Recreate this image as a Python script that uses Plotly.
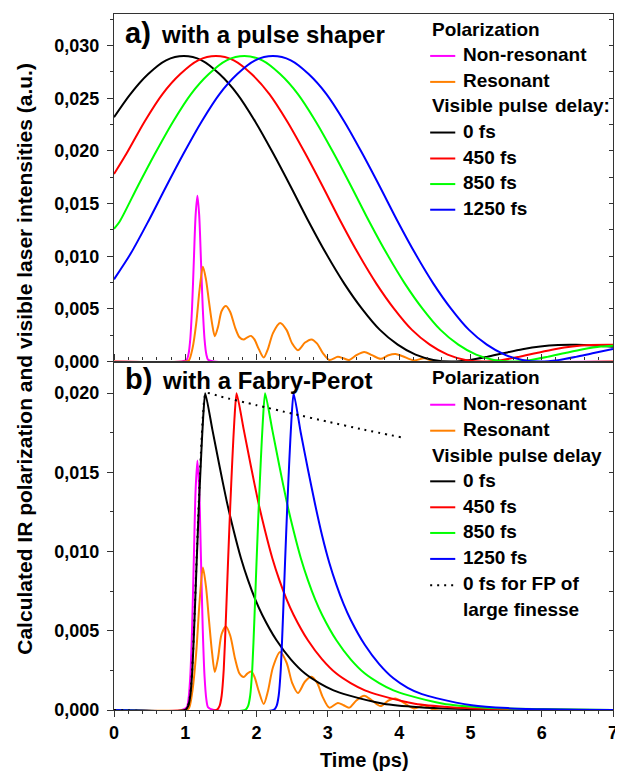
import plotly.graph_objects as go

# ---------------- data ----------------
# (a) pulse shaper: visible laser intensities for each delay
t_black_a = [0, 0.23, 0.48, 0.73, 0.98, 1.23, 1.48, 1.73, 1.98, 2.23, 2.48, 2.73, 2.98, 3.23, 3.48,
             3.73, 3.98, 4.23, 4.48, 4.73, 4.98, 5.23, 5.48, 5.73, 5.98, 6.23, 6.48, 6.73, 7.0]
black_a = [0.0232, 0.0254, 0.0273, 0.0286, 0.0290, 0.0286, 0.0273, 0.0254, 0.0228, 0.0198, 0.0166,
           0.0133, 0.0102, 0.0074, 0.0050, 0.0030, 0.0016, 0.00065, 0.00015, 0.0, 0.00013, 0.00044,
           0.00081, 0.00116, 0.00142, 0.00156, 0.00158, 0.00152, 0.00140]

t_red_a = [0, 0.18, 0.43, 0.68, 0.93, 1.18, 1.43, 1.68, 1.93, 2.18, 2.43, 2.68, 2.93, 3.18, 3.43,
           3.68, 3.93, 4.18, 4.43, 4.68, 4.93, 5.18, 5.43, 5.68, 5.93, 6.18, 6.43, 6.68, 7.0]
red_a = [0.0178, 0.0198, 0.0228, 0.0254, 0.0273, 0.0286, 0.0290, 0.0286, 0.0273, 0.0254, 0.0228,
         0.0198, 0.0166, 0.0133, 0.0102, 0.0074, 0.0050, 0.0030, 0.0016, 0.00065, 0.00015, 0.0,
         0.00013, 0.00044, 0.00081, 0.00116, 0.00142, 0.00156, 0.00158]

t_green_a = [0, 0.08, 0.33, 0.58, 0.83, 1.08, 1.33, 1.58, 1.83, 2.08, 2.33, 2.58, 2.83, 3.08, 3.33,
             3.58, 3.83, 4.08, 4.33, 4.58, 4.83, 5.08, 5.33, 5.58, 5.83, 6.08, 6.33, 6.58, 6.83, 7.0]
green_a = [0.0126, 0.0133, 0.0166, 0.0198, 0.0228, 0.0254, 0.0273, 0.0286, 0.0290, 0.0286, 0.0273,
           0.0254, 0.0228, 0.0198, 0.0166, 0.0133, 0.0102, 0.0074, 0.0050, 0.0030, 0.0016, 0.00065,
           0.00015, 0.0, 0.00013, 0.00044, 0.00081, 0.00116, 0.00142, 0.00150]

t_blue_a = [0, 0.23, 0.48, 0.73, 0.98, 1.23, 1.48, 1.73, 1.98, 2.23, 2.48, 2.73, 2.98, 3.23, 3.48,
            3.73, 3.98, 4.23, 4.48, 4.73, 4.98, 5.23, 5.48, 5.73, 5.98, 6.23, 6.48, 6.73, 7.0]
blue_a = [0.0078, 0.0102, 0.0133, 0.0166, 0.0198, 0.0228, 0.0254, 0.0273, 0.0286, 0.0290, 0.0286,
          0.0273, 0.0254, 0.0228, 0.0198, 0.0166, 0.0133, 0.0102, 0.0074, 0.0050, 0.0030, 0.0016,
          0.00065, 0.00015, 0.0, 0.00013, 0.00044, 0.00081, 0.00118]

# IR polarization (same in both panels)
t_nonres = [0, 0.95, 1.02, 1.045, 1.07, 1.095, 1.12, 1.145, 1.17, 1.195, 1.22, 1.245, 1.27,
            1.295, 1.32, 1.40, 7.0]
nonres = [0, 0, 0.00017, 0.00069, 0.00213, 0.0051, 0.00956, 0.0139, 0.01575, 0.0139, 0.00956,
          0.0051, 0.00213, 0.00069, 0.00017, 0, 0]

t_res = [0, 1.0, 1.05, 1.1, 1.153, 1.2, 1.247, 1.29, 1.33, 1.376, 1.414, 1.46, 1.51, 1.571, 1.63,
         1.70, 1.76, 1.818, 1.87, 1.924, 1.97, 2.03, 2.10, 2.16, 2.23, 2.33, 2.42, 2.50, 2.58, 2.68,
         2.77, 2.85, 2.93, 3.02, 3.14, 3.22, 3.30, 3.40, 3.51, 3.62, 3.74, 3.85, 3.95, 4.05, 4.21,
         4.35, 4.50, 7.0]
res = [0, 0, 0.0001, 0.0012, 0.0036, 0.0068, 0.0090, 0.0078, 0.0058, 0.0036, 0.0024, 0.0033,
       0.0048, 0.00527, 0.0047, 0.0032, 0.0023, 0.00208, 0.0023, 0.00243, 0.0021, 0.0012, 0.00038,
       0.0012, 0.0027, 0.00366, 0.0030, 0.0017, 0.00107, 0.0018, 0.0021, 0.0017, 0.0008, 0.00015,
       0.00044, 0.0003, 0.00015, 0.0006, 0.0009, 0.0006, 0.00025, 0.0006, 0.00072, 0.0005, 0.0001,
       0.0003, 0.0, 0.0]

# (b) Fabry-Perot: visible laser intensities for each delay
t_black_b = [0, 1.0, 1.04, 1.07, 1.10, 1.13, 1.16, 1.19, 1.22, 1.25, 1.28, 1.38, 1.48, 1.58, 1.68,
             1.78, 1.88, 1.98, 2.08, 2.28, 2.48, 2.68, 2.88, 3.08, 3.28, 3.78, 4.28, 4.78, 5.28,
             6.28, 7.0]
black_b = [0, 0, 0.00024, 0.0009, 0.0026, 0.0058, 0.0094, 0.0128, 0.0158, 0.0184, 0.0200, 0.0177,
           0.0154, 0.0132, 0.0113, 0.0096, 0.0082, 0.0070, 0.0060, 0.0044, 0.0032, 0.0023, 0.0017,
           0.00124, 0.00094, 0.0004, 0.00018, 0.00008, 0.00004, 0.0, 0.0]

t_red_b = [0, 1.44, 1.48, 1.51, 1.54, 1.57, 1.60, 1.63, 1.66, 1.69, 1.72, 1.82, 1.92, 2.02, 2.12,
           2.22, 2.32, 2.42, 2.52, 2.72, 2.92, 3.12, 3.32, 3.52, 3.72, 4.22, 4.72, 5.22, 5.72,
           6.72, 7.0]
red_b = [0, 0, 0.00024, 0.0009, 0.0026, 0.0058, 0.0094, 0.0128, 0.0158, 0.0184, 0.0200, 0.0177,
         0.0154, 0.0132, 0.0113, 0.0096, 0.0082, 0.0070, 0.0060, 0.0044, 0.0032, 0.0023, 0.0017,
         0.00124, 0.00094, 0.0004, 0.00018, 0.00008, 0.00004, 0.0, 0.0]

t_green_b = [0, 1.84, 1.88, 1.91, 1.94, 1.97, 2.00, 2.03, 2.06, 2.09, 2.12, 2.22, 2.32, 2.42, 2.52,
             2.62, 2.72, 2.82, 2.92, 3.12, 3.32, 3.52, 3.72, 3.92, 4.12, 4.62, 5.12, 5.62, 6.12, 7.0]
green_b = [0, 0, 0.00024, 0.0009, 0.0026, 0.0058, 0.0094, 0.0128, 0.0158, 0.0184, 0.0200, 0.0177,
           0.0154, 0.0132, 0.0113, 0.0096, 0.0082, 0.0070, 0.0060, 0.0044, 0.0032, 0.0023, 0.0017,
           0.00124, 0.00094, 0.0004, 0.00018, 0.00008, 0.00004, 0.0]

t_blue_b = [0, 2.24, 2.28, 2.31, 2.34, 2.37, 2.40, 2.43, 2.46, 2.49, 2.52, 2.62, 2.72, 2.82, 2.92,
            3.02, 3.12, 3.22, 3.32, 3.52, 3.72, 3.92, 4.12, 4.32, 4.52, 5.02, 5.52, 6.02, 6.52, 7.0]
blue_b = [0, 0, 0.00024, 0.0009, 0.0026, 0.0058, 0.0094, 0.0128, 0.0158, 0.0184, 0.0200, 0.0175,
          0.0152, 0.0130, 0.0110, 0.0093, 0.0079, 0.0067, 0.0057, 0.0041, 0.0029, 0.0020, 0.0014,
          0.0010, 0.00075, 0.0003, 0.00012, 0.00005, 0.00002, 0.0]

# dotted: 0 fs for FP of large finesse
t_fp = [0, 1.0, 1.04, 1.07, 1.10, 1.13, 1.16, 1.19, 1.22, 1.25, 1.29, 1.5, 2.0, 2.5, 3.0, 3.5, 4.05]
fp = [0, 0, 0.0003, 0.001, 0.0028, 0.006, 0.0097, 0.0132, 0.0163, 0.0187, 0.0200, 0.01978,
      0.01924, 0.01871, 0.0182, 0.0177, 0.0172]

x_ticks = [0, 1, 2, 3, 4, 5, 6, 7]
ya_ticks = [0.000, 0.005, 0.010, 0.015, 0.020, 0.025, 0.030]
yb_ticks = [0.000, 0.005, 0.010, 0.015, 0.020]

MAGENTA, ORANGE = "#FF00FF", "#FF8000"
BLACK, RED, GREEN, BLUE = "#000000", "#FF0000", "#00FF00", "#0000FF"
FONT = "Liberation Sans, Arial, Helvetica, sans-serif"

# ---------------- figure ----------------
fig = go.Figure()


def add(x, y, color, xa, ya, dash="solid", smooth=0.8):
    fig.add_trace(go.Scatter(x=x, y=y, mode="lines", xaxis=xa, yaxis=ya,
                             line=dict(color=color, width=2, dash=dash, shape="spline",
                                       smoothing=smooth),
                             showlegend=False, hoverinfo="skip"))


# panel a
add(t_nonres, nonres, MAGENTA, "x", "y")
add(t_res, res, ORANGE, "x", "y")
add(t_black_a, black_a, BLACK, "x", "y")
add(t_red_a, red_a, RED, "x", "y")
add(t_green_a, green_a, GREEN, "x", "y")
add(t_blue_a, blue_a, BLUE, "x", "y")
# panel b
add(t_nonres, nonres, MAGENTA, "x2", "y2")
add(t_res, res, ORANGE, "x2", "y2")
add(t_black_b, black_b, BLACK, "x2", "y2", smooth=0.6)
add(t_red_b, red_b, RED, "x2", "y2", smooth=0.6)
add(t_green_b, green_b, GREEN, "x2", "y2", smooth=0.6)
add(t_blue_b, blue_b, BLUE, "x2", "y2", smooth=0.6)
add(t_fp, fp, BLACK, "x2", "y2", dash="2px,5px", smooth=0.6)
# empty traces for the inward-tick right axes
fig.add_trace(go.Scatter(x=[], y=[], xaxis="x", yaxis="y3", showlegend=False))
fig.add_trace(go.Scatter(x=[], y=[], xaxis="x2", yaxis="y4", showlegend=False))

# target plot-area edges in window pixels; the page body adds an 8px offset
OFF = 8
L, R, T, B = 114, 617, 13, 710
W, H = 623 - OFF, 772 - OFF
SPLIT = 361


def X(px):
    return (px - L) / (R - L)


def Y(py):
    return (B - py) / (B - T)


LINE = "#333333"
tickfont = dict(family=FONT, size=18, color="black", weight="bold")

common_y = dict(showline=True, linecolor=LINE, linewidth=1.3, showgrid=False, zeroline=False,
                ticks="outside", ticklen=6, tickwidth=1.3, tickcolor=LINE, tickfont=tickfont,
                tickformat=".3f", ticklabelstandoff=4,
                minor=dict(ticks="outside", ticklen=3, tickwidth=1.1, tickcolor=LINE, dtick=0.0025))
right_y = dict(showline=True, linecolor=LINE, linewidth=1.3, showgrid=False, zeroline=False,
               ticks="inside", ticklen=4, tickwidth=1.2, tickcolor=LINE, showticklabels=False,
               side="right",
               minor=dict(ticks="inside", ticklen=4, tickwidth=1.1, tickcolor=LINE, dtick=0.0025))

dom_a = [Y(SPLIT), 1]
dom_b = [0, Y(SPLIT)]

fig.update_layout(
    width=W, height=H,
    margin=dict(l=L - OFF, r=623 - R, t=T - OFF, b=772 - B, pad=0),
    paper_bgcolor="white", plot_bgcolor="white",
    separators=", ",
    font=dict(family=FONT, color="black"),
    showlegend=False,
    xaxis=dict(domain=[0, 1], anchor="y", range=[0, 7], showline=True, mirror=True,
               linecolor=LINE, linewidth=1.3, showgrid=False, zeroline=False, ticks="",
               showticklabels=False),
    xaxis2=dict(domain=[0, 1], anchor="y2", range=[0, 7], showline=True, mirror="ticks",
                linecolor=LINE, linewidth=1.3, showgrid=False, zeroline=False,
                tickvals=x_ticks, ticks="outside", ticklen=6, tickwidth=1.3, tickcolor=LINE,
                tickfont=tickfont, ticklabelstandoff=0, ticklabeloverflow="allow",
                minor=dict(ticks="outside", ticklen=3, tickwidth=1.1, tickcolor=LINE, dtick=0.2)),
    yaxis=dict(domain=dom_a, anchor="x", range=[0, 0.033], tickvals=ya_ticks, **common_y),
    yaxis2=dict(domain=dom_b, anchor="x2", range=[0, 0.022], tickvals=yb_ticks, **common_y),
    yaxis3=dict(overlaying="y", anchor="x", range=[0, 0.033], tickvals=ya_ticks, **right_y),
    yaxis4=dict(overlaying="y2", anchor="x2", range=[0, 0.022], tickvals=yb_ticks, **right_y),
)

ann = []


def text(px, baseline, s, size=19, xanchor="left"):
    ann.append(dict(x=X(px), y=Y(baseline - 0.33 * size), xref="paper", yref="paper",
                    text=s, showarrow=False, xanchor=xanchor, yanchor="middle",
                    font=dict(family=FONT, size=size, color="black", weight="bold")))


shapes = []


def sample(baseline, color, dash="solid", x0=432.7, x1=458):
    shapes.append(dict(type="line", xref="paper", yref="paper", x0=X(x0), x1=X(x1),
                       y0=Y(baseline - 5), y1=Y(baseline - 5),
                       line=dict(color=color, width=2, dash=dash)))


# panel labels
text(123, 41.7, "a)", size=29)
text(159, 41.7, "with a pulse shaper", size=24)
text(123, 388.3, "b)", size=29)
text(160, 388.3, "with a Fabry-Perot", size=24)

# legend a
text(432.7, 35, "Polarization")
text(464, 60, "Non-resonant"); sample(60, MAGENTA)
text(464, 86, "Resonant"); sample(86, ORANGE)
text(432.7, 111, "Visible pulse")
text(615.5, 111, "delay:", xanchor="right")
text(464, 136.7, "0 fs"); sample(136.7, BLACK)
text(464, 162.7, "450 fs"); sample(162.7, RED)
text(464, 188.3, "850 fs"); sample(188.3, GREEN)
text(464, 214, "1250 fs"); sample(214, BLUE)

# legend b
text(432.7, 383.3, "Polarization")
text(464, 409.3, "Non-resonant"); sample(409.3, MAGENTA)
text(464, 435.3, "Resonant"); sample(435.3, ORANGE)
text(432.7, 461, "Visible pulse delay")
text(464, 486, "0 fs"); sample(486, BLACK)
text(464, 512, "450 fs"); sample(512, RED)
text(464, 537.7, "850 fs"); sample(537.7, GREEN)
text(464, 563.7, "1250 fs"); sample(563.7, BLUE)
text(464, 590, "0 fs for FP of"); sample(590, BLACK, dash="2px,5px")
text(464, 615.3, "large finesse")

# axis titles
ann.append(dict(x=X(367), y=Y(760), xref="paper", yref="paper", text="Time (ps)",
                showarrow=False, xanchor="center", yanchor="middle",
                font=dict(family=FONT, size=20, color="black", weight="bold")))
ann.append(dict(x=X(23), y=Y(358.5), xref="paper", yref="paper",
                text="Calculated IR polarization and visible laser intensities (a.u.)",
                showarrow=False, xanchor="center", yanchor="middle", textangle=-90,
                font=dict(family=FONT, size=21, color="black", weight="bold")))

fig.update_layout(annotations=ann, shapes=shapes)
fig.write_html("out.html")
